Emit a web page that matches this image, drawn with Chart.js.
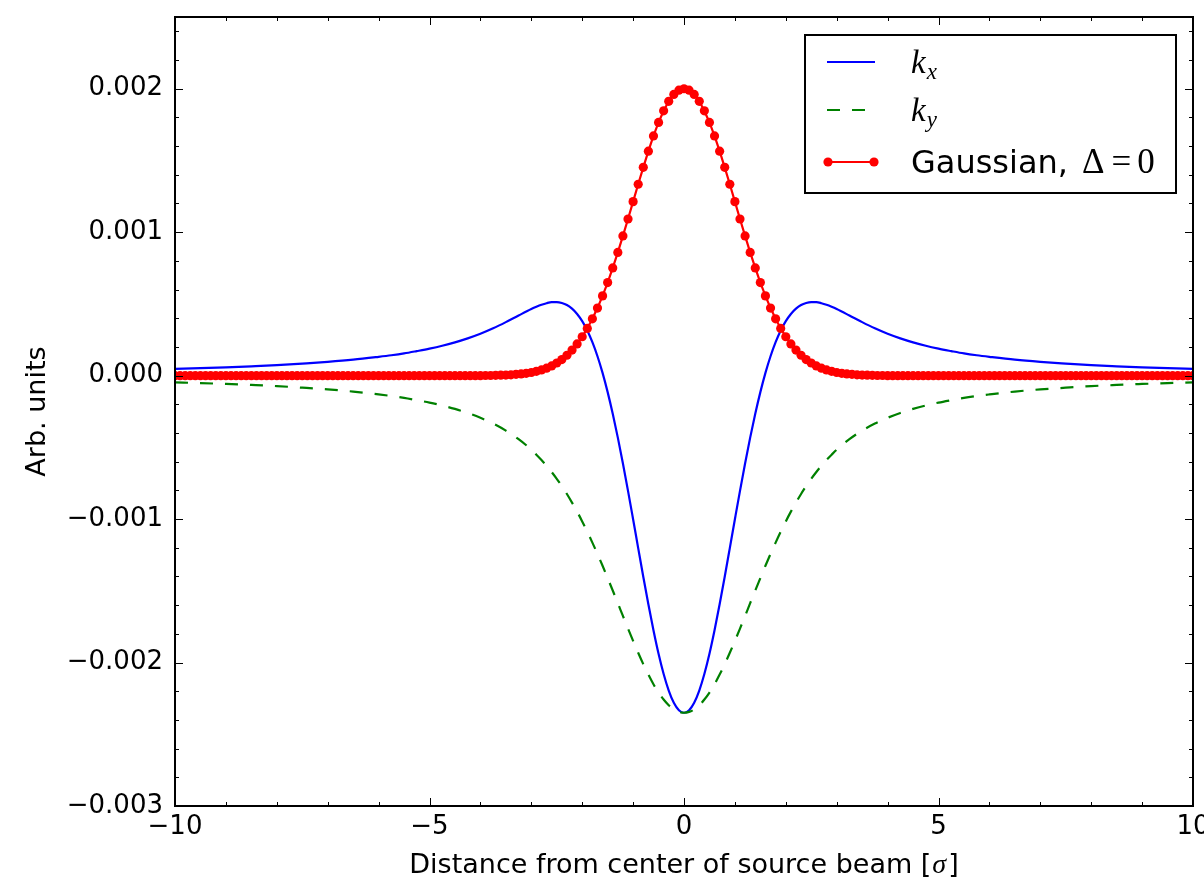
<!DOCTYPE html>
<html>
<head>
<meta charset="utf-8">
<script src="https://cdn.jsdelivr.net/npm/chart.js@4.4.1/dist/chart.umd.min.js"></script>
<style>
  html, body { margin: 0; padding: 0; background: #ffffff; }
  #wrap { width: 1204px; height: 880px; }
</style>
</head>
<body>
<div id="wrap"><canvas id="c" width="1204" height="880"></canvas></div>
<script>
// ---------- data ----------
const kX = [-10,-9.5,-9,-8.5,-8,-7.5,-7,-6.5,-6,-5.75,-5.5,-5.25,-5,-4.75,-4.5,-4.25,-4,-3.75,-3.5,-3.25,
  -3,-2.9,-2.8,-2.7,-2.6,-2.5,-2.4,-2.3,-2.2,-2.1,-2,-1.9,-1.8,-1.7,-1.6,-1.5,-1.4,-1.3,-1.2,-1.1,
  -1,-0.9,-0.8,-0.7,-0.6,-0.5,-0.4,-0.3,-0.2,-0.1,
  0,
  0.1,0.2,0.3,0.4,0.5,0.6,0.7,0.8,0.9,1,
  1.1,1.2,1.3,1.4,1.5,1.6,1.7,1.8,1.9,2,2.1,2.2,2.3,2.4,2.5,2.6,2.7,2.8,2.9,3,
  3.25,3.5,3.75,4,4.25,4.5,4.75,5,5.25,5.5,5.75,6,6.5,7,7.5,8,8.5,9,9.5,10];

const kxValues = [
  0.000047,0.000052,0.000058,0.000065,0.000073,0.000084,0.000096,0.000111,0.000131,0.000142,0.000155,0.000171,0.000188,0.000208,0.000232,0.000260,0.000292,0.000330,0.000373,0.000419,
  0.000464,0.000480,0.000494,0.000505,0.000512,0.000512,0.000506,0.000492,0.000467,0.000430,0.000380,0.000315,0.000233,0.000135,0.000019,-0.000115,-0.000266,-0.000432,-0.000613,-0.000803,
  -0.001001,-0.001202,-0.001402,-0.001594,-0.001775,-0.001939,-0.002080,-0.002195,-0.002280,-0.002332,
  -0.002350,
  -0.002332,-0.002280,-0.002195,-0.002080,-0.001939,-0.001775,-0.001594,-0.001402,-0.001202,-0.001001,
  -0.000803,-0.000613,-0.000432,-0.000266,-0.000115,0.000019,0.000135,0.000233,0.000315,0.000380,0.000430,0.000467,0.000492,0.000506,0.000512,0.000512,0.000505,0.000494,0.000480,0.000464,
  0.000419,0.000373,0.000330,0.000292,0.000260,0.000232,0.000208,0.000188,0.000171,0.000155,0.000142,0.000131,0.000111,0.000096,0.000084,0.000073,0.000065,0.000058,0.000052,0.000047];

const kyValues = [
  -0.000047,-0.000052,-0.000058,-0.000065,-0.000073,-0.000084,-0.000096,-0.000111,-0.000131,-0.000142,-0.000155,-0.000171,-0.000188,-0.000208,-0.000232,-0.000260,-0.000294,-0.000334,-0.000383,-0.000443,
  -0.000516,-0.000551,-0.000588,-0.000628,-0.000672,-0.000719,-0.000770,-0.000825,-0.000885,-0.000948,-0.001016,-0.001088,-0.001164,-0.001243,-0.001325,-0.001411,-0.001498,-0.001586,-0.001675,-0.001763,
  -0.001849,-0.001932,-0.002011,-0.002084,-0.002151,-0.002209,-0.002258,-0.002298,-0.002327,-0.002344,
  -0.002350,
  -0.002344,-0.002327,-0.002298,-0.002258,-0.002209,-0.002151,-0.002084,-0.002011,-0.001932,-0.001849,
  -0.001763,-0.001675,-0.001586,-0.001498,-0.001411,-0.001325,-0.001243,-0.001164,-0.001088,-0.001016,-0.000948,-0.000885,-0.000825,-0.000770,-0.000719,-0.000672,-0.000628,-0.000588,-0.000551,-0.000516,
  -0.000443,-0.000383,-0.000334,-0.000294,-0.000260,-0.000232,-0.000208,-0.000188,-0.000171,-0.000155,-0.000142,-0.000131,-0.000111,-0.000096,-0.000084,-0.000073,-0.000065,-0.000058,-0.000052,-0.000047];

const gaussX = [
  -10,-9.9,-9.8,-9.7,-9.6,-9.5,-9.4,-9.3,-9.2,-9.1,
  -9,-8.9,-8.8,-8.7,-8.6,-8.5,-8.4,-8.3,-8.2,-8.1,
  -8,-7.9,-7.8,-7.7,-7.6,-7.5,-7.4,-7.3,-7.2,-7.1,
  -7,-6.9,-6.8,-6.7,-6.6,-6.5,-6.4,-6.3,-6.2,-6.1,
  -6,-5.9,-5.8,-5.7,-5.6,-5.5,-5.4,-5.3,-5.2,-5.1,
  -5,-4.9,-4.8,-4.7,-4.6,-4.5,-4.4,-4.3,-4.2,-4.1,
  -4,-3.9,-3.8,-3.7,-3.6,-3.5,-3.4,-3.3,-3.2,-3.1,
  -3,-2.9,-2.8,-2.7,-2.6,-2.5,-2.4,-2.3,-2.2,-2.1,
  -2,-1.9,-1.8,-1.7,-1.6,-1.5,-1.4,-1.3,-1.2,-1.1,
  -1,-0.9,-0.8,-0.7,-0.6,-0.5,-0.4,-0.3,-0.2,-0.1,
  0,
  0.1,0.2,0.3,0.4,0.5,0.6,0.7,0.8,0.9,1,
  1.1,1.2,1.3,1.4,1.5,1.6,1.7,1.8,1.9,2,
  2.1,2.2,2.3,2.4,2.5,2.6,2.7,2.8,2.9,3,
  3.1,3.2,3.3,3.4,3.5,3.6,3.7,3.8,3.9,4,
  4.1,4.2,4.3,4.4,4.5,4.6,4.7,4.8,4.9,5,
  5.1,5.2,5.3,5.4,5.5,5.6,5.7,5.8,5.9,6,
  6.1,6.2,6.3,6.4,6.5,6.6,6.7,6.8,6.9,7,
  7.1,7.2,7.3,7.4,7.5,7.6,7.7,7.8,7.9,8,
  8.1,8.2,8.3,8.4,8.5,8.6,8.7,8.8,8.9,9,
  9.1,9.2,9.3,9.4,9.5,9.6,9.7,9.8,9.9,10];

const gaussValues = [
  0,0,0,0,0,0,0,0,0,0,
  0,0,0,0,0,0,0,0,0,0,
  0,0,0,0,0,0,0,0,0,0,
  0,0,0,0,0,0,0,0,0,0,
  0,0,0,0,0,0,0,0,0,0,
  0,0,0,0,0,0,0,0,0,0,
  0,0.000001,0.000001,0.000002,0.000003,0.000004,0.000006,0.000009,0.000012,0.000016,
  0.000022,0.000030,0.000040,0.000052,0.000068,0.000088,0.000112,0.000142,0.000178,0.000221,
  0.000271,0.000329,0.000396,0.000471,0.000556,0.000649,0.000751,0.000859,0.000974,0.001092,
  0.001213,0.001334,0.001452,0.001565,0.001671,0.001765,0.001846,0.001912,0.001960,0.001990,
  0.002000,
  0.001990,0.001960,0.001912,0.001846,0.001765,0.001671,0.001565,0.001452,0.001334,0.001213,
  0.001092,0.000974,0.000859,0.000751,0.000649,0.000556,0.000471,0.000396,0.000329,0.000271,
  0.000221,0.000178,0.000142,0.000112,0.000088,0.000068,0.000052,0.000040,0.000030,0.000022,
  0.000016,0.000012,0.000009,0.000006,0.000004,0.000003,0.000002,0.000001,0.000001,0,
  0,0,0,0,0,0,0,0,0,0,
  0,0,0,0,0,0,0,0,0,0,
  0,0,0,0,0,0,0,0,0,0,
  0,0,0,0,0,0,0,0,0,0,
  0,0,0,0,0,0,0,0,0,0,
  0,0,0,0,0,0,0,0,0,0];

const xTickValues = [-10, -5, 0, 5, 10];
const xTickLabels = ["\u221210", "\u22125", "0", "5", "10"];
const xMinorTicks = [-9,-8,-7,-6,-4,-3,-2,-1,1,2,3,4,6,7,8,9];
const yTickValues = [-0.003, -0.002, -0.001, 0, 0.001, 0.002];
const yTickLabels = ["\u22120.003", "\u22120.002", "\u22120.001", "0.000", "0.001", "0.002"];
const yMinorTicks = [-0.0028,-0.0026,-0.0024,-0.0022,-0.0018,-0.0016,-0.0014,-0.0012,-0.0008,-0.0006,-0.0004,-0.0002,
                     0.0002,0.0004,0.0006,0.0008,0.0012,0.0014,0.0016,0.0018,0.0022,0.0024];

const xTitleMain = "Distance from center of source beam [";
const xTitleSym = "\u03c3";
const xTitleEnd = "]";
const yTitle = "Arb. units";
const legendLabels = ["k", "k", "Gaussian,"];
const legendSubs = ["x", "y", ""];

// ---------- chart ----------
const toPts = (xs, ys) => xs.map((x, i) => ({ x: x, y: ys[i] }));

const SANS = "'DejaVu Sans', sans-serif";
const SERIF = "'Liberation Serif', 'DejaVu Serif', serif";

const framePlugin = {
  id: 'framePlugin',
  afterDraw(chart) {
    const ctx = chart.ctx;
    const a = chart.chartArea;
    const xs = chart.scales.x, ys = chart.scales.y;
    ctx.save();
    // ticks (inward, all four sides)
    ctx.strokeStyle = '#000';
    ctx.lineWidth = 1;
    const vtick = (v, len) => {
      const px = Math.round(xs.getPixelForValue(v)) + 0.5;
      ctx.beginPath();
      ctx.moveTo(px, a.bottom); ctx.lineTo(px, a.bottom - len);
      ctx.moveTo(px, a.top); ctx.lineTo(px, a.top + len);
      ctx.stroke();
    };
    const htick = (v, len) => {
      const py = Math.round(ys.getPixelForValue(v)) + 0.5;
      ctx.beginPath();
      ctx.moveTo(a.left, py); ctx.lineTo(a.left + len, py);
      ctx.moveTo(a.right, py); ctx.lineTo(a.right - len, py);
      ctx.stroke();
    };
    xTickValues.forEach(v => vtick(v, 8));
    xMinorTicks.forEach(v => vtick(v, 4));
    yTickValues.forEach(v => htick(v, 8));
    yMinorTicks.forEach(v => htick(v, 4));
    // frame
    ctx.lineWidth = 2;
    ctx.strokeRect(a.left, a.top, a.right - a.left, a.bottom - a.top);

    // axis titles
    ctx.fillStyle = '#000';
    ctx.textBaseline = 'alphabetic';
    ctx.font = "27px " + SANS;
    const w1 = ctx.measureText(xTitleMain).width;
    ctx.font = "italic 28px " + SERIF;
    const w2 = ctx.measureText(xTitleSym).width + 3;
    ctx.font = "27px " + SANS;
    const w3 = ctx.measureText(xTitleEnd).width;
    let tx = (a.left + a.right) / 2 - (w1 + w2 + w3) / 2;
    const ty = 873;
    ctx.fillText(xTitleMain, tx, ty);
    ctx.font = "italic 28px " + SERIF;
    ctx.fillText(xTitleSym, tx + w1 + 1, ty);
    ctx.font = "27px " + SANS;
    ctx.fillText(xTitleEnd, tx + w1 + w2, ty);

    ctx.save();
    ctx.translate(38, (a.top + a.bottom) / 2);
    ctx.rotate(-Math.PI / 2);
    ctx.font = "27px " + SANS;
    ctx.textAlign = 'center';
    ctx.textBaseline = 'middle';
    ctx.fillText(yTitle, 0, 0);
    ctx.restore();

    // legend
    const bx = 805, by = 35, bw = 371, bh = 158;
    ctx.fillStyle = '#fff';
    ctx.fillRect(bx, by, bw, bh);
    ctx.strokeStyle = '#000';
    ctx.lineWidth = 2;
    ctx.strokeRect(bx, by, bw, bh);
    const rowsY = [62, 110, 162];
    const ds = chart.data.datasets;
    rowsY.forEach((ry, i) => {
      const d = ds[i];
      ctx.save();
      ctx.strokeStyle = d.borderColor;
      ctx.lineWidth = d.borderWidth;
      ctx.setLineDash(d.borderDash || []);
      ctx.beginPath();
      ctx.moveTo(827, ry); ctx.lineTo(875, ry);
      ctx.stroke();
      ctx.restore();
      if (d.pointRadius > 0) {
        ctx.fillStyle = d.pointBackgroundColor;
        [828, 874].forEach(px => {
          ctx.beginPath(); ctx.arc(px, ry, d.pointRadius, 0, Math.PI * 2); ctx.fill();
        });
      }
      ctx.fillStyle = '#000';
      ctx.textBaseline = 'alphabetic';
      if (legendSubs[i]) {
        ctx.font = "italic 33px " + SERIF;
        ctx.fillText(legendLabels[i], 911, ry + 11);
        const kw = ctx.measureText(legendLabels[i]).width;
        ctx.font = "italic 23px " + SERIF;
        ctx.fillText(legendSubs[i], 911 + kw + 1, ry + 17);
      } else {
        ctx.font = "32px " + SANS;
        ctx.fillText(legendLabels[i], 911, ry + 11);
        const gw = ctx.measureText(legendLabels[i]).width;
        ctx.font = "35px " + SERIF;
        let sx = 911 + gw + 14;
        ctx.fillText("\u0394", sx, ry + 11);
        sx += ctx.measureText("\u0394").width + 7;
        ctx.fillText("=", sx, ry + 11);
        sx += ctx.measureText("=").width + 6;
        ctx.fillText("0", sx, ry + 11);
      }
    });
    ctx.restore();
  }
};

const chart = new Chart(document.getElementById('c'), {
  type: 'scatter',
  data: {
    datasets: [
      { label: 'kx', data: toPts(kX, kxValues), showLine: true, borderColor: '#0000ff', backgroundColor: '#0000ff',
        borderWidth: 2.2, pointRadius: 0, cubicInterpolationMode: 'monotone', order: 3 },
      { label: 'ky', data: toPts(kX, kyValues), showLine: true, borderColor: '#008000', backgroundColor: '#008000',
        borderWidth: 2.2, borderDash: [13, 12], pointRadius: 0, cubicInterpolationMode: 'monotone', order: 2 },
      { label: 'Gaussian', data: toPts(gaussX, gaussValues), showLine: true, borderColor: '#ff0000', backgroundColor: '#ff0000',
        borderWidth: 2.2, pointRadius: 4.6, pointBackgroundColor: '#ff0000', pointBorderColor: '#ff0000', pointBorderWidth: 0,
        pointHoverRadius: 4.6, tension: 0, order: 1 }
    ]
  },
  options: {
    responsive: false,
    animation: false,
    devicePixelRatio: 1,
    layout: { padding: { top: 17, right: 11, left: 0, bottom: 0 } },
    plugins: { legend: { display: false }, tooltip: { enabled: false }, title: { display: false } },
    scales: {
      x: {
        type: 'linear', min: -10, max: 10,
        grid: { display: false, drawTicks: false },
        border: { display: false },
        afterBuildTicks: s => { s.ticks = xTickValues.map(v => ({ value: v })); },
        afterFit: s => { s.height = 74; s.paddingLeft = 0; s.paddingRight = 0; s.paddingTop = 0; s.paddingBottom = 0; },
        ticks: {
          padding: 6, maxRotation: 0, autoSkip: false, color: '#000',
          font: { family: "DejaVu Sans", size: 26 },
          callback: (v) => { const i = xTickValues.indexOf(v); return i >= 0 ? xTickLabels[i] : ''; }
        }
      },
      y: {
        type: 'linear', min: -0.003, max: 0.0025,
        grid: { display: false, drawTicks: false },
        border: { display: false },
        afterBuildTicks: s => { s.ticks = yTickValues.map(v => ({ value: v })); },
        afterFit: s => { s.width = 175; s.paddingLeft = 0; s.paddingRight = 0; s.paddingTop = 0; s.paddingBottom = 0; },
        ticks: {
          padding: 12, autoSkip: false, color: '#000',
          font: { family: "DejaVu Sans", size: 26 },
          callback: (v) => { const i = yTickValues.findIndex(t => Math.abs(t - v) < 1e-9); return i >= 0 ? yTickLabels[i] : ''; }
        }
      }
    }
  },
  plugins: [framePlugin]
});
</script>
</body>
</html>
